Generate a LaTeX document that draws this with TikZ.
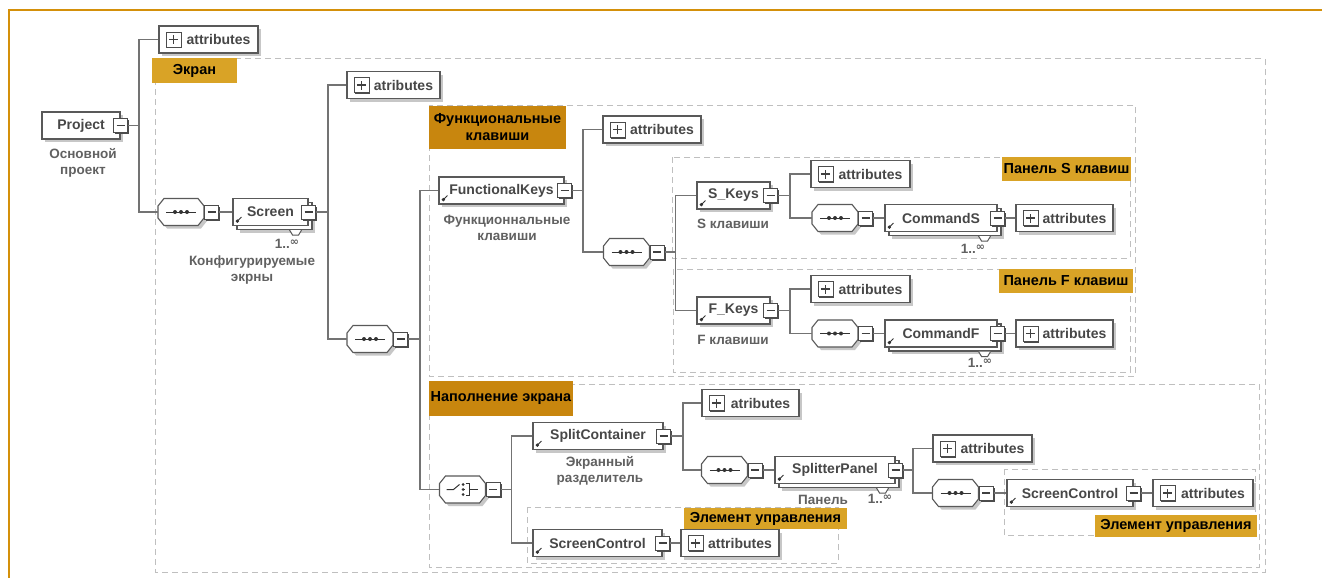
\documentclass[tikz,border=0pt]{standalone}
\usepackage{fontspec}
\setmainfont{Liberation Sans}
\newfontfamily\djv{DejaVu Sans}
\usetikzlibrary{shadows,arrows.meta}
\definecolor{frameor}{HTML}{D4900A}
\definecolor{goldA}{HTML}{D9A326}
\definecolor{goldB}{HTML}{C8860E}
\newcommand\ef{\fontsize{14}{16.5}\selectfont\bfseries}
\newcommand\lf{\fontsize{14.5}{17}\selectfont\bfseries}
\newcommand\df{\fontsize{13.5}{16.5}\selectfont\bfseries}
\newcommand\multinf{1..\raisebox{3.5pt}{\djv\fontsize{11}{11}\selectfont ∞}}
\tikzset{
 ebase/.style={draw=black!65, line width=1.1pt, fill=white, minimum height=27, inner sep=0pt, font=\ef, text=black!72},
 elem/.style={ebase, drop shadow={shadow xshift=3pt, shadow yshift=-3pt, fill=black!22, opacity=1}},
 melem/.style={ebase, drop shadow={shadow xshift=7pt, shadow yshift=-7pt, fill=black!22, opacity=1}, copy shadow={shadow xshift=4pt, shadow yshift=-4pt}},
 minus/.style={draw=black!70, line width=0.9pt, fill=white, minimum size=14, inner sep=0pt,
   drop shadow={shadow xshift=1.5pt, shadow yshift=-1.5pt, fill=black!70, opacity=1},
   path picture={\draw[black!75, line width=1.1pt] ([xshift=3pt]path picture bounding box.west) -- ([xshift=-3pt]path picture bounding box.east);}},
 plus/.style={draw=black!70, line width=0.9pt, fill=white, minimum size=15, inner sep=0pt,
   drop shadow={shadow xshift=1.5pt, shadow yshift=-1.5pt, fill=black!70, opacity=1},
   path picture={\draw[black!75, line width=1.1pt] ([xshift=3pt]path picture bounding box.west) -- ([xshift=-3pt]path picture bounding box.east) ([yshift=3pt]path picture bounding box.south) -- ([yshift=-3pt]path picture bounding box.north);}},
 compshape/.style={draw=black!65, line width=1.1pt, fill=white, drop shadow={shadow xshift=3pt, shadow yshift=-3pt, fill=black!22, opacity=1}},
 compnode/.style={minimum width=46, minimum height=27, inner sep=0pt},
 sym/.style={draw=black!80, line width=1pt},
 conn/.style={draw=black!55, line width=1.3pt},
 dbox/.style={draw=black!25, line width=1pt, dash pattern=on 6pt off 4pt},
 lbl/.style={inner sep=0pt, font=\lf, text=black, align=center},
 dtext/.style={inner sep=0pt, font=\df, text=black!62, align=center},
 refar/.style={line width=0.9pt, draw=black!80, {Square[length=2.6pt,width=2.6pt]}-},
 notchst/.style={draw=black!65, line width=1pt, fill=white},
}
\newcommand\elm[6]{%
 \node[#1, minimum width=#5] (#2) at (#3,#4) {#6};
 \node[minus] (#2-m) at (#2.east) {};}
\newcommand\refic[1]{\draw[refar] ([xshift=4pt,yshift=4pt]#1.south west) -- ++(5,-5);}
\newcommand\notch[1]{\draw[notchst] ([xshift=-19pt,yshift=-4pt]#1.south east) -- ++(3,5) -- ++(6,0) -- ++(3,-5);}
\newcommand\attrbox[5]{%
 \node[elem, minimum width=#4] (#1) at (#2,#3) {\hspace*{20pt}#5};
 \node[plus] (#1-p) at ([xshift=15pt]#1.west) {};}
\newcommand\octo[3]{%
 \draw[compshape] ({#2-23},{#3-6}) -- ({#2-17},{#3-13.5}) -- ({#2+17},{#3-13.5}) -- ({#2+23},{#3-6}) -- ({#2+23},{#3+6}) -- ({#2+17},{#3+13.5}) -- ({#2-17},{#3+13.5}) -- ({#2-23},{#3+6}) -- cycle;
 \node[compnode] (#1) at (#2,#3) {};
 \node[minus, anchor=west] (#1-m) at (#1.east) {};}
\newcommand\seqc[3]{%
 \octo{#1}{#2}{#3}
 \draw[sym] ([xshift=-15pt]#1.center) -- ([xshift=15pt]#1.center);
 \foreach \d in {-6,0,6} \fill[black!80] ([xshift=\d pt]#1.center) circle (2pt);}
\newcommand\choicec[3]{%
 \octo{#1}{#2}{#3}
 \draw[sym] ([xshift=-16pt]#1.center) -- ([xshift=-9pt]#1.center) -- ([xshift=-3pt,yshift=5pt]#1.center);
 \draw[sym] ([xshift=-1pt]#1.center) -- ([xshift=2pt]#1.center);
 \foreach \d in {-5,0,5} \fill[black!80] ([xshift=0.5pt,yshift=\d pt]#1.center) circle (1.5pt);
 \draw[sym] ([xshift=3pt,yshift=6pt]#1.center) -- ([xshift=7pt,yshift=6pt]#1.center) -- ([xshift=7pt,yshift=-6pt]#1.center) -- ([xshift=3pt,yshift=-6pt]#1.center);
 \draw[sym] ([xshift=7pt]#1.center) -- ([xshift=15pt]#1.center);}
\begin{document}
\begin{tikzpicture}[x=1pt,y=-1pt]
\useasboundingbox (0,0) rectangle (1322,578);
\fill[white] (0,0) rectangle (1322,578);
\draw[frameor, line width=2pt] (1322,10) -- (9,10) -- (9,578);

% dashed groups
\draw[dbox] (155,59) rectangle (1265,572);
\draw[dbox] (429,105) rectangle (1135,376);
\draw[dbox] (672,157) rectangle (1130,258);
\draw[dbox] (673,269) rectangle (1130,372);
\draw[dbox] (429,384) rectangle (1259,567);
\draw[dbox] (527,507) rectangle (838,563);
\draw[dbox] (1004,469) rectangle (1255,535);

% labels
\node[lbl, fill=goldA, minimum width=85, minimum height=25] (lb1) at (194.5,70.5) {Экран};
\node[lbl, fill=goldB, minimum width=137, minimum height=43] (lb2) at (497.5,127.5) {Функциональные\\клавиши};
\node[lbl, fill=goldA, minimum width=129, minimum height=24] (lb3) at (1066.5,169) {Панель S клавиш};
\node[lbl, fill=goldA, minimum width=134, minimum height=24] (lb4) at (1066,281) {Панель F клавиш};
\node[lbl, fill=goldB, minimum width=144, minimum height=35] (lb5) at (501,398.5) {Наполнение экрана};
\node[lbl, fill=goldA, minimum width=163, minimum height=21] (lb6) at (765.5,518.5) {Элемент управления};
\node[lbl, fill=goldA, minimum width=162, minimum height=22] (lb7) at (1176,526) {Элемент управления};

% elements
\elm{elem}{proj}{81}{125.5}{78}{Project}
\node[dtext] (proj-d) at (83,163) {Основной\\проект};
\attrbox{a1}{208.5}{39.5}{99}{attributes}

\seqc{s1}{181}{212}
\elm{melem}{scr}{270.5}{212}{75}{Screen}
\refic{scr}
\notch{scr}
\node[dtext] (scr-n) at (287,244) {\multinf};
\node[dtext] (scr-d) at (252,270) {Конфигурируемые\\экрны};

\attrbox{a2}{393.5}{85}{93}{atributes}
\seqc{s2}{370}{339}

\elm{elem}{fk}{501.5}{190.5}{125}{FunctionalKeys}
\refic{fk}
\node[dtext] (fk-d) at (507,228) {Функционнальные\\клавиши};
\attrbox{a3}{652}{129.5}{98}{attributes}
\seqc{s3}{626.5}{252}

\elm{elem}{sk}{733.5}{195.5}{73}{S\_Keys}
\refic{sk}
\node[dtext] (sk-d) at (733,224) {S клавиши};
\attrbox{a4}{860.5}{174}{99}{attributes}
\seqc{s4}{835}{218}
\elm{melem}{cs}{941}{218}{112}{CommandS}
\refic{cs}
\notch{cs}
\node[dtext] (cs-n) at (973,249) {\multinf};
\attrbox{a5}{1064.5}{218}{97}{attributes}

\elm{elem}{fkk}{733.5}{310.5}{73}{F\_Keys}
\refic{fkk}
\node[dtext] (fkk-d) at (733,340) {F клавиши};
\attrbox{a6}{860.5}{289}{99}{attributes}
\seqc{s5}{835}{333.5}
\elm{melem}{cf}{941}{333.5}{112}{CommandF}
\refic{cf}
\notch{cf}
\node[dtext] (cf-n) at (980,363) {\multinf};
\attrbox{a7}{1064.5}{333.5}{97}{attributes}

\choicec{ch}{462.5}{489.5}
\elm{elem}{spc}{598}{436}{130}{SplitContainer}
\refic{spc}
\node[dtext] (spc-d) at (600,471) {Экранный\\разделитель};
\attrbox{a8}{750.5}{403}{97}{atributes}
\seqc{s6}{724.5}{470}
\elm{melem}{spp}{835}{470}{120}{SplitterPanel}
\refic{spp}
\notch{spp}
\node[dtext] (spp-d) at (823,500) {Панель};
\node[dtext] (spp-n) at (880,499) {\multinf};
\attrbox{a9}{982.5}{448.5}{99}{attributes}
\seqc{s7}{955.5}{493}
\elm{elem}{sc2}{1070}{493}{126}{ScreenControl}
\refic{sc2}
\attrbox{a10}{1203}{493}{100}{attributes}

\elm{elem}{sc1}{597.5}{543}{129}{ScreenControl}
\refic{sc1}
\attrbox{a11}{730}{543}{98}{attributes}

% connectors
\draw[conn] (proj-m.east) -- ++(11,0) |- (a1.west);
\draw[conn] (proj-m.east) -- ++(11,0) |- (s1.west);
\draw[conn] (s1-m.east) -- (scr.west);
\draw[conn] (scr-m.east) -- ++(12,0) |- (a2.west);
\draw[conn] (scr-m.east) -- ++(12,0) |- (s2.west);
\draw[conn] (s2-m.east) -- ++(12,0) |- (fk.west);
\draw[conn] (s2-m.east) -- ++(12,0) |- (ch.west);
\draw[conn] (fk-m.east) -- ++(11,0) |- (a3.west);
\draw[conn] (fk-m.east) -- ++(11,0) |- (s3.west);
\draw[conn] (s3-m.east) -- ++(11,0) |- (sk.west);
\draw[conn] (s3-m.east) -- ++(11,0) |- (fkk.west);
\draw[conn] (sk-m.east) -- ++(12,0) |- (a4.west);
\draw[conn] (sk-m.east) -- ++(12,0) |- (s4.west);
\draw[conn] (s4-m.east) -- (cs.west);
\draw[conn] (cs-m.east) -- (a5.west);
\draw[conn] (fkk-m.east) -- ++(12,0) |- (a6.west);
\draw[conn] (fkk-m.east) -- ++(12,0) |- (s5.west);
\draw[conn] (s5-m.east) -- (cf.west);
\draw[conn] (cf-m.east) -- (a7.west);
\draw[conn] (ch-m.east) -- ++(11,0) |- (spc.west);
\draw[conn] (ch-m.east) -- ++(11,0) |- (sc1.west);
\draw[conn] (spc-m.east) -- ++(12,0) |- (a8.west);
\draw[conn] (spc-m.east) -- ++(12,0) |- (s6.west);
\draw[conn] (s6-m.east) -- (spp.west);
\draw[conn] (spp-m.east) -- ++(10,0) |- (a9.west);
\draw[conn] (spp-m.east) -- ++(10,0) |- (s7.west);
\draw[conn] (s7-m.east) -- (sc2.west);
\draw[conn] (sc2-m.east) -- (a10.west);
\draw[conn] (sc1-m.east) -- (a11.west);
\end{tikzpicture}
\end{document}
